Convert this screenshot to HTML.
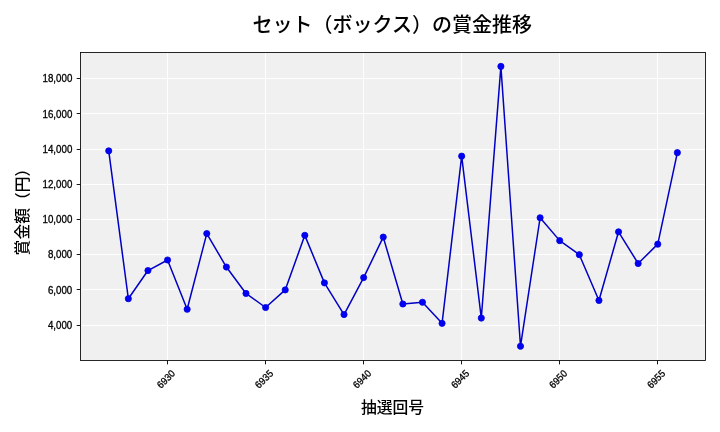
<!DOCTYPE html>
<html lang="ja">
<head>
<meta charset="utf-8">
<title>セット（ボックス）の賞金推移</title>
<style>
html,body{margin:0;padding:0;background:#fff;}
body{width:720px;height:432px;overflow:hidden;}
svg{display:block;}
svg text{font-family:"Liberation Sans", "Noto Sans CJK JP", sans-serif;fill:#000;font-weight:500;}
.tk{font-size:10px;stroke:#000;stroke-width:0.3px;}
.lb{font-size:15.8px;}
.tt{font-size:20px;}
</style>
</head>
<body>
<svg width="720" height="432" viewBox="0 0 720 432">
<rect x="0" y="0" width="720" height="432" fill="#ffffff"/>
<rect x="80.30" y="52.40" width="625.50" height="307.82" fill="#f0f0f0"/>
<g stroke="#ffffff" stroke-width="0.9" fill="none">
<line x1="167.50" y1="52.40" x2="167.50" y2="360.22"/>
<line x1="265.50" y1="52.40" x2="265.50" y2="360.22"/>
<line x1="363.50" y1="52.40" x2="363.50" y2="360.22"/>
<line x1="461.50" y1="52.40" x2="461.50" y2="360.22"/>
<line x1="559.50" y1="52.40" x2="559.50" y2="360.22"/>
<line x1="657.50" y1="52.40" x2="657.50" y2="360.22"/>
<line x1="80.30" y1="325.50" x2="705.80" y2="325.50"/>
<line x1="80.30" y1="289.50" x2="705.80" y2="289.50"/>
<line x1="80.30" y1="254.50" x2="705.80" y2="254.50"/>
<line x1="80.30" y1="219.50" x2="705.80" y2="219.50"/>
<line x1="80.30" y1="184.50" x2="705.80" y2="184.50"/>
<line x1="80.30" y1="149.50" x2="705.80" y2="149.50"/>
<line x1="80.30" y1="113.50" x2="705.80" y2="113.50"/>
<line x1="80.30" y1="78.50" x2="705.80" y2="78.50"/>
</g>
<g stroke="#000000" stroke-width="0.9" fill="none">
<line x1="167.50" y1="360.50" x2="167.50" y2="364.40"/>
<line x1="265.50" y1="360.50" x2="265.50" y2="364.40"/>
<line x1="363.50" y1="360.50" x2="363.50" y2="364.40"/>
<line x1="461.50" y1="360.50" x2="461.50" y2="364.40"/>
<line x1="559.50" y1="360.50" x2="559.50" y2="364.40"/>
<line x1="657.50" y1="360.50" x2="657.50" y2="364.40"/>
<line x1="76.70" y1="325.50" x2="80.50" y2="325.50"/>
<line x1="76.70" y1="289.50" x2="80.50" y2="289.50"/>
<line x1="76.70" y1="254.50" x2="80.50" y2="254.50"/>
<line x1="76.70" y1="219.50" x2="80.50" y2="219.50"/>
<line x1="76.70" y1="184.50" x2="80.50" y2="184.50"/>
<line x1="76.70" y1="149.50" x2="80.50" y2="149.50"/>
<line x1="76.70" y1="113.50" x2="80.50" y2="113.50"/>
<line x1="76.70" y1="78.50" x2="80.50" y2="78.50"/>
</g>
<polyline points="108.73,150.87 128.34,298.71 147.95,270.55 167.56,259.99 187.16,309.27 206.77,233.59 226.38,267.03 245.99,293.43 265.60,307.51 285.21,289.91 304.81,235.35 324.42,282.87 344.03,314.55 363.64,277.59 383.25,237.11 402.85,303.99 422.46,302.23 442.07,323.35 461.68,156.15 481.29,318.07 500.89,66.39 520.50,346.23 540.11,217.75 559.72,240.63 579.33,254.71 598.94,300.47 618.54,231.83 638.15,263.51 657.76,244.15 677.37,152.63" fill="none" stroke="#0000c4" stroke-width="1.5" stroke-linejoin="round" stroke-linecap="butt"/>
<g fill="#0000f5" stroke="#0000dc" stroke-width="0.8">
<circle cx="108.73" cy="150.87" r="3.1"/>
<circle cx="128.34" cy="298.71" r="3.1"/>
<circle cx="147.95" cy="270.55" r="3.1"/>
<circle cx="167.56" cy="259.99" r="3.1"/>
<circle cx="187.16" cy="309.27" r="3.1"/>
<circle cx="206.77" cy="233.59" r="3.1"/>
<circle cx="226.38" cy="267.03" r="3.1"/>
<circle cx="245.99" cy="293.43" r="3.1"/>
<circle cx="265.60" cy="307.51" r="3.1"/>
<circle cx="285.21" cy="289.91" r="3.1"/>
<circle cx="304.81" cy="235.35" r="3.1"/>
<circle cx="324.42" cy="282.87" r="3.1"/>
<circle cx="344.03" cy="314.55" r="3.1"/>
<circle cx="363.64" cy="277.59" r="3.1"/>
<circle cx="383.25" cy="237.11" r="3.1"/>
<circle cx="402.85" cy="303.99" r="3.1"/>
<circle cx="422.46" cy="302.23" r="3.1"/>
<circle cx="442.07" cy="323.35" r="3.1"/>
<circle cx="461.68" cy="156.15" r="3.1"/>
<circle cx="481.29" cy="318.07" r="3.1"/>
<circle cx="500.89" cy="66.39" r="3.1"/>
<circle cx="520.50" cy="346.23" r="3.1"/>
<circle cx="540.11" cy="217.75" r="3.1"/>
<circle cx="559.72" cy="240.63" r="3.1"/>
<circle cx="579.33" cy="254.71" r="3.1"/>
<circle cx="598.94" cy="300.47" r="3.1"/>
<circle cx="618.54" cy="231.83" r="3.1"/>
<circle cx="638.15" cy="263.51" r="3.1"/>
<circle cx="657.76" cy="244.15" r="3.1"/>
<circle cx="677.37" cy="152.63" r="3.1"/>
</g>
<rect x="80.50" y="52.50" width="625.00" height="308.00" fill="none" stroke="#000000" stroke-width="0.85"/>
<g class="tk" text-anchor="end">
<text transform="translate(72.3,328.71) scale(0.975,1)">4,000</text>
<text transform="translate(72.3,293.51) scale(0.975,1)">6,000</text>
<text transform="translate(72.3,258.31) scale(0.975,1)">8,000</text>
<text transform="translate(72.3,223.11) scale(0.975,1)">10,000</text>
<text transform="translate(72.3,187.91) scale(0.975,1)">12,000</text>
<text transform="translate(72.3,152.71) scale(0.975,1)">14,000</text>
<text transform="translate(72.3,117.51) scale(0.975,1)">16,000</text>
<text transform="translate(72.3,82.31) scale(0.975,1)">18,000</text>
</g>
<g class="tk" text-anchor="middle">
<text transform="translate(165.86,379.00) rotate(-45) scale(0.94,1)" x="0" y="3.6">6930</text>
<text transform="translate(263.90,379.00) rotate(-45) scale(0.94,1)" x="0" y="3.6">6935</text>
<text transform="translate(361.94,379.00) rotate(-45) scale(0.94,1)" x="0" y="3.6">6940</text>
<text transform="translate(459.98,379.00) rotate(-45) scale(0.94,1)" x="0" y="3.6">6945</text>
<text transform="translate(558.02,379.00) rotate(-45) scale(0.94,1)" x="0" y="3.6">6950</text>
<text transform="translate(656.06,379.00) rotate(-45) scale(0.94,1)" x="0" y="3.6">6955</text>
</g>
<text class="lb" text-anchor="middle" x="392.5" y="413">抽選回号</text>
<text class="lb" text-anchor="middle" transform="translate(22.5,208.0) rotate(-90)" x="0" y="5.8">賞金額（円）</text>
<text class="tt" text-anchor="middle" x="392.2" y="31.6">セット（ボックス）の賞金推移</text>
</svg>
</body>
</html>
